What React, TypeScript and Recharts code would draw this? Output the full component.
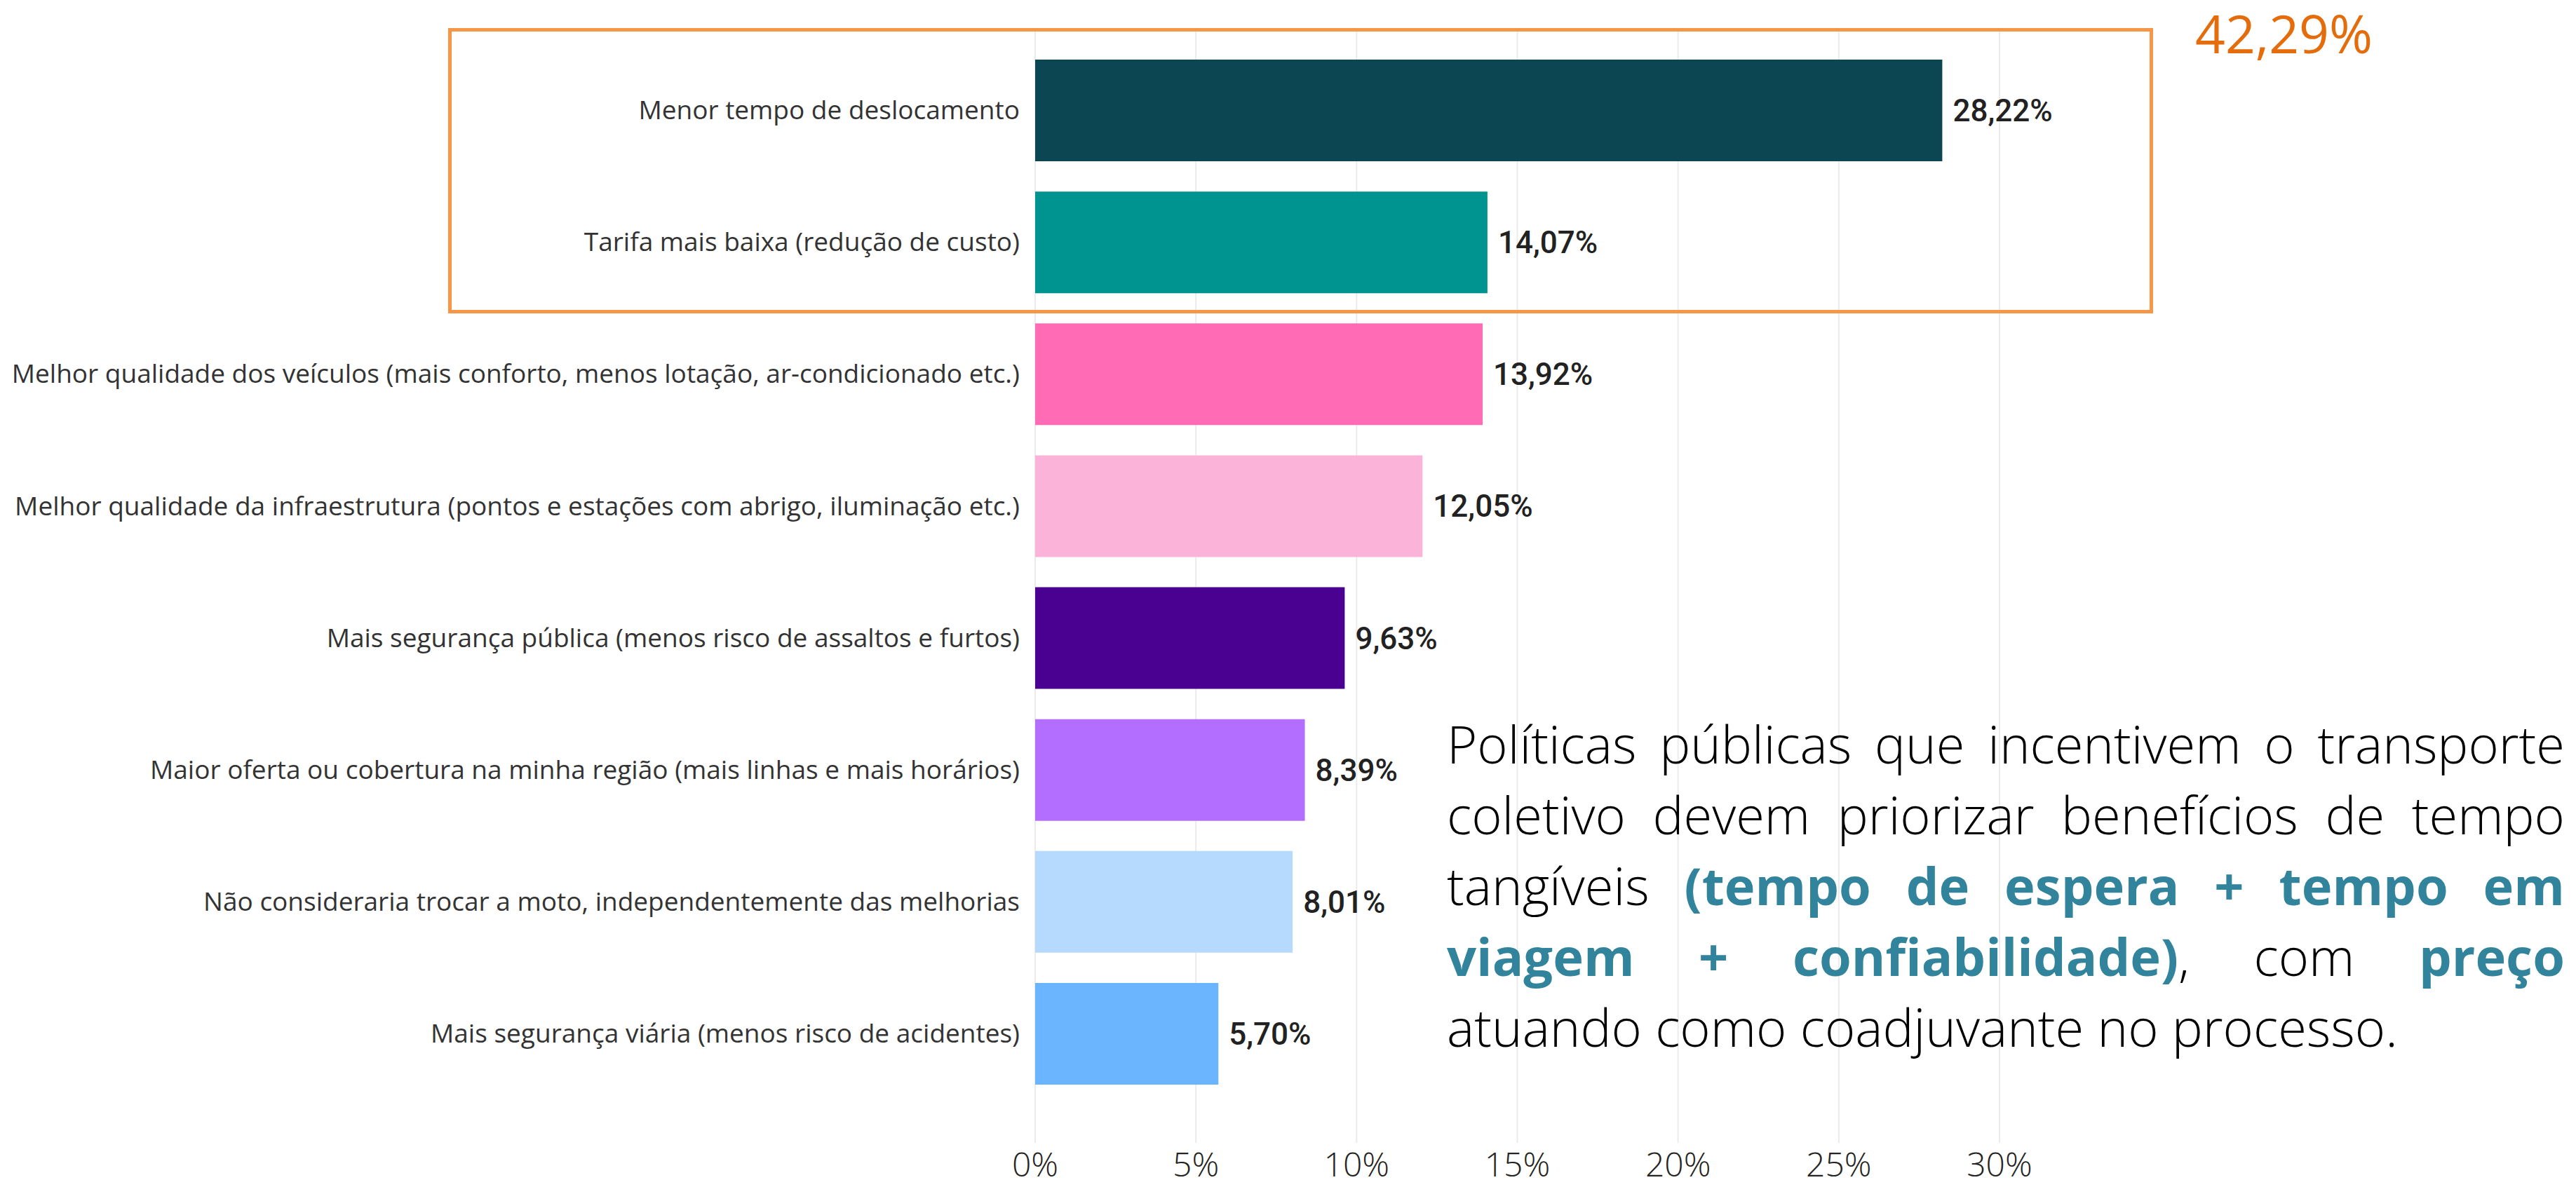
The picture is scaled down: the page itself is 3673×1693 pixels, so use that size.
import React from 'react';
import { BarChart, Bar, XAxis, YAxis, CartesianGrid, Cell, LabelList } from 'recharts';

const categories = [
  'Menor tempo de deslocamento',
  'Tarifa mais baixa (redução de custo)',
  'Melhor qualidade dos veículos (mais conforto, menos lotação, ar-condicionado etc.)',
  'Melhor qualidade da infraestrutura (pontos e estações com abrigo, iluminação etc.)',
  'Mais segurança pública (menos risco de assaltos e furtos)',
  'Maior oferta ou cobertura na minha região (mais linhas e mais horários)',
  'Não consideraria trocar a moto, independentemente das melhorias',
  'Mais segurança viária (menos risco de acidentes)',
];
const shares = [28.22, 14.07, 13.92, 12.05, 9.63, 8.39, 8.01, 5.7];
const barColors = ['#0B4652', '#009490', '#FF6BB4', '#FBB3D9', '#4A0090', '#B46EFF', '#B5DAFD', '#6BB4FF'];
const xTicks = [0, 5, 10, 15, 20, 25, 30];

const highlighted = [0, 1]; // itens dentro do destaque laranja

const data = categories.map((name, i) => ({ name, value: shares[i] }));

const pct = (v: number) => `${v.toFixed(2).replace('.', ',')}%`;
const highlightTotal = highlighted.reduce((s, i) => s + shares[i], 0);

const teal = { color: '#31849B', fontWeight: 700 };
const lineStyle: React.CSSProperties = { textAlign: 'justify', textAlignLast: 'justify', whiteSpace: 'nowrap' };

const App: React.FC = () => {
  return (
    <div style={{ position: 'absolute', left: 0, top: 0, width: 3673, height: 1693, background: '#fff' }}>
      <BarChart
        width={3673}
        height={1693}
        data={data}
        layout="vertical"
        margin={{ top: 45, right: 822, bottom: 0, left: 0 }}
      >
        <CartesianGrid horizontal={false} stroke="#EBEBEB" strokeWidth={2} />
        <XAxis
          type="number"
          domain={[0, 30]}
          ticks={xTicks}
          tickFormatter={(v) => `${v}%`}
          axisLine={false}
          tickLine={false}
          tickSize={0}
          tickMargin={14}
          height={63}
          tick={{ fill: '#252423', fontSize: 48, fontFamily: 'Open Sans', fontWeight: 300 }}
        />
        <YAxis
          type="category"
          dataKey="name"
          width={1476}
          axisLine={false}
          tickLine={false}
          tickSize={0}
          tickMargin={22}
          padding={{ top: 18, bottom: 62 }}
          interval={0}
          tick={{ fill: '#333333', fontSize: 37, fontFamily: 'Open Sans' }}
        />
        <Bar dataKey="value" barSize={145} isAnimationActive={false}>
          {data.map((_, i) => (
            <Cell key={i} fill={barColors[i]} />
          ))}
          <LabelList
            dataKey="value"
            position="right"
            offset={15}
            formatter={(v: any) => pct(Number(v))}
            style={{ fill: '#222222', fontSize: 44, fontFamily: 'Roboto', fontWeight: 500 }}
          />
        </Bar>
      </BarChart>

      {/* destaque laranja dos dois primeiros itens */}
      <div
        style={{
          position: 'absolute',
          left: 639,
          top: 40,
          width: 2431,
          height: 407,
          border: '5px solid #F79646',
          boxSizing: 'border-box',
        }}
      />
      <div
        style={{
          position: 'absolute',
          left: 3130,
          top: -3,
          fontFamily: 'Open Sans',
          fontSize: 75,
          color: '#E46C0A',
          lineHeight: '100px',
        }}
      >
        {pct(highlightTotal)}
      </div>

      <div
        style={{
          position: 'absolute',
          left: 2063,
          top: 1010,
          width: 1594,
          fontFamily: 'Open Sans',
          fontWeight: 300,
          fontSize: 74,
          lineHeight: '101px',
          color: '#000',
        }}
      >
        <div style={lineStyle}>Políticas públicas que incentivem o transporte</div>
        <div style={lineStyle}>coletivo devem priorizar benefícios de tempo</div>
        <div style={lineStyle}>
          tangíveis <span style={teal}>(tempo de espera + tempo em</span>
        </div>
        <div style={lineStyle}>
          <span style={teal}>viagem + confiabilidade)</span>, com <span style={teal}>preço</span>
        </div>
        <div style={{ whiteSpace: 'nowrap' }}>atuando como coadjuvante no processo.</div>
      </div>
    </div>
  );
};

export default App;
